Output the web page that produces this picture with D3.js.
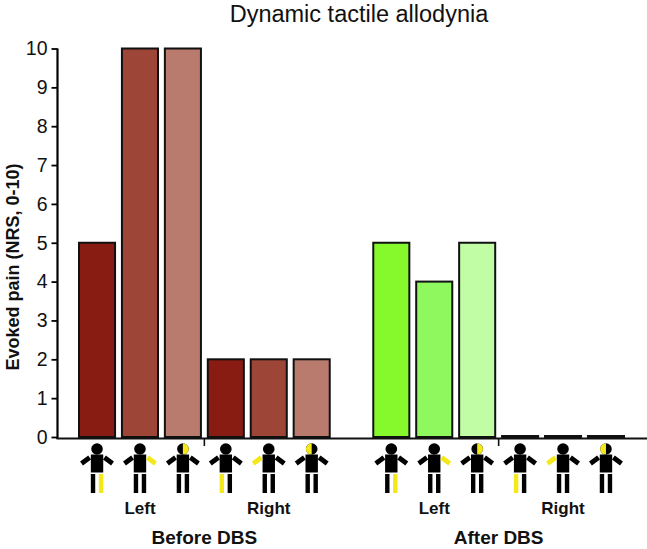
<!DOCTYPE html>
<html>
<head>
<meta charset="utf-8">
<script src="https://cdn.jsdelivr.net/npm/d3@7"></script>
<style>
  html, body { margin: 0; padding: 0; background: #fff; }
  #chart { width: 647px; height: 549px; }
</style>
</head>
<body>
<div id="chart"></div>
<script>
const groups = ['Before DBS', 'After DBS'];
const sides = ['Left', 'Right'];
const sites = ['leg', 'arm', 'face'];
const beforeValues = [5, 10, 10, 2, 2, 2];
const afterValues = [5, 4, 5, 0, 0, 0];
const beforeColors = ['#881b12', '#9d4638', '#ba7b6f'];
const afterColors = ['#86f92c', '#90f85f', '#c0fda4'];
const yTicks = [0, 1, 2, 3, 4, 5, 6, 7, 8, 9, 10];

const WIDTH = 647;
const HEIGHT = 549;
const YELLOW = '#f3e81a';
const SANS = 'Liberation Sans, Arial, sans-serif';

// one record per bar: group / side / site
const bars = [];
groups.forEach((g, gi) => {
  const values = gi === 0 ? beforeValues : afterValues;
  const colors = gi === 0 ? beforeColors : afterColors;
  sides.forEach((s, si) => {
    sites.forEach((site, ti) => {
      const i = si * 3 + ti;
      bars.push({ group: g, side: s, site: site, key: s + '-' + site, value: values[i], color: colors[ti] });
    });
  });
});
const barKeys = bars.slice(0, 6).map((d) => d.key);

const xGroup = d3.scaleBand().domain(groups).range([79, 624]).paddingInner(0.148);
const xBar = d3.scaleBand().domain(barKeys).range([0, xGroup.bandwidth()]).paddingInner(0.16);
const y = d3.scaleLinear().domain([0, 10]).range([437, 48.5]);

const svg = d3.select('#chart').append('svg').attr('width', WIDTH).attr('height', HEIGHT);

// title
svg.append('text')
  .attr('x', 359)
  .attr('y', 21.5)
  .attr('text-anchor', 'middle')
  .attr('font-family', SANS)
  .attr('font-size', '23.5px')
  .attr('fill', '#111')
  .text('Dynamic tactile allodynia');

// y axis
const yAxis = d3.axisLeft(y).tickValues(yTicks).tickSizeInner(6).tickSizeOuter(0).tickPadding(4);
const gy = svg.append('g').attr('transform', 'translate(57.5,0)').call(yAxis);
gy.select('.domain').attr('stroke-width', 2.2).attr('d', 'M0,' + y(10) + 'V' + (y(0) + 2));
gy.selectAll('.tick line').attr('stroke-width', 1.8);
gy.selectAll('.tick text')
  .attr('font-family', SANS)
  .attr('font-size', '19.5px')
  .attr('fill', '#111');

svg.append('text')
  .attr('transform', 'translate(19,267) rotate(-90)')
  .attr('text-anchor', 'middle')
  .attr('font-family', SANS)
  .attr('font-weight', 'bold')
  .attr('font-size', '18px')
  .attr('fill', '#111')
  .text('Evoked pain (NRS, 0-10)');

// bars
svg.append('g')
  .selectAll('rect')
  .data(bars)
  .join('rect')
  .attr('x', (d) => xGroup(d.group) + xBar(d.key))
  .attr('y', (d) => Math.min(y(d.value), y(0) - 1))
  .attr('width', xBar.bandwidth())
  .attr('height', (d) => Math.max(y(0) - y(d.value), 1))
  .attr('fill', (d) => d.color)
  .attr('stroke', '#111')
  .attr('stroke-width', 2);

// x axis line
svg.append('line')
  .attr('x1', 56.5)
  .attr('x2', WIDTH)
  .attr('y1', y(0) + 1.5)
  .attr('y2', y(0) + 1.5)
  .attr('stroke', '#111')
  .attr('stroke-width', 2);

// small separators between Left and Right within each group
groups.forEach((g) => {
  const xs = xGroup(g) + (xBar(barKeys[2]) + xBar.bandwidth() + xBar(barKeys[3])) / 2;
  svg.append('line')
    .attr('x1', xs).attr('x2', xs)
    .attr('y1', y(0) + 1.5).attr('y2', y(0) + 9)
    .attr('stroke', '#111')
    .attr('stroke-width', 1.6);

  sides.forEach((s, si) => {
    const cx = xGroup(g) + xBar(barKeys[si * 3 + 1]) + xBar.bandwidth() / 2;
    svg.append('text')
      .attr('x', cx)
      .attr('y', 514)
      .attr('text-anchor', 'middle')
      .attr('font-family', SANS)
      .attr('font-weight', 'bold')
      .attr('font-size', '17px')
      .attr('fill', '#111')
      .text(s);
  });

  svg.append('text')
    .attr('x', xGroup(g) + xGroup.bandwidth() / 2)
    .attr('y', 544)
    .attr('text-anchor', 'middle')
    .attr('font-family', SANS)
    .attr('font-weight', 'bold')
    .attr('font-size', '19px')
    .attr('fill', '#111')
    .text(g);
});

// stick figures under each bar, yellow marks the tested site
bars.forEach((d) => {
  const cx = xGroup(d.group) + xBar(d.key) + xBar.bandwidth() / 2;
  drawFigure(svg, cx, y(0) + 1, d.side, d.site);
});

function drawFigure(parent, cx, top, side, site) {
  const g = parent.append('g').attr('transform', 'translate(' + cx + ',' + top + ')');
  const hl = side === 'Left' ? 1 : -1; // which side of the figure gets yellow
  const r = 5.8;

  g.append('circle').attr('cx', 0).attr('cy', 11).attr('r', r).attr('fill', '#000');
  if (site === 'face') {
    g.append('path')
      .attr('d', 'M0,' + (11 - r) + 'A' + r + ',' + r + ' 0 0 ' + (hl > 0 ? 1 : 0) + ' 0,' + (11 + r) + 'Z')
      .attr('fill', YELLOW);
  }

  g.append('rect').attr('x', -6.2).attr('y', 16.5).attr('width', 12.4).attr('height', 18).attr('fill', '#000');

  [-1, 1].forEach((k) => {
    g.append('line')
      .attr('x1', k * 7.4).attr('y1', 19.5)
      .attr('x2', k * 15.5).attr('y2', 25.5)
      .attr('stroke', site === 'arm' && k === hl ? YELLOW : '#000')
      .attr('stroke-width', 4.8);
    g.append('rect')
      .attr('x', k < 0 ? -6.2 : 1.8)
      .attr('y', 36)
      .attr('width', 4.4)
      .attr('height', 19)
      .attr('fill', site === 'leg' && k === hl ? YELLOW : '#000');
  });
}
</script>
</body>
</html>
